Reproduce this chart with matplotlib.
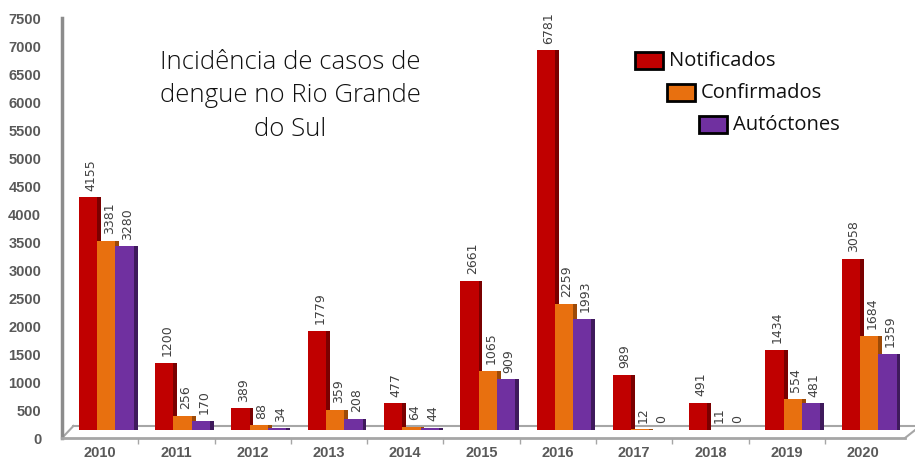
import numpy as np
import matplotlib
matplotlib.use("Agg")
import matplotlib.pyplot as plt
import matplotlib.patches as mpatches

# data
years = ['2010', '2011', '2012', '2013', '2014', '2015', '2016', '2017', '2018', '2019', '2020']
notificados = [4155, 1200, 389, 1779, 477, 2661, 6781, 989, 491, 1434, 3058]
confirmados = [3381, 256, 88, 359, 64, 1065, 2259, 12, 11, 554, 1684]
autoctones = [3280, 170, 34, 208, 44, 909, 1993, 0, 0, 481, 1359]

series = [('Notificados', notificados, '#c00000', '#7a0000'),
          ('Confirmados', confirmados, '#e8700f', '#9c4a08'),
          ('Autóctones', autoctones, '#7030a0', '#3f1a5c')]

W, H = 915, 468
fig = plt.figure(figsize=(W / 100, H / 100), dpi=100)
ax = fig.add_axes([62 / W, 1 - 438 / H, (905 - 62) / W, (438 - 18) / H])

x = np.arange(len(years))
offsets = [-0.16, 0.08, 0.32]
bw = 0.24     # bar face width
side = 0.05   # 3d side depth
lift = 140    # 3d lift of bars above the front floor edge

# floor (back edge + slanted ends)
ax.plot([-0.35, 10.75], [215, 215], color='#a6a6a6', lw=1.5, zorder=1, clip_on=False)
ax.plot([-0.5, -0.35], [0, 215], color='#a6a6a6', lw=1.5, zorder=1, clip_on=False)
ax.plot([10.55, 10.75], [0, 215], color='#a6a6a6', lw=1.5, zorder=1, clip_on=False)

z = 2
for (name, vals, col, dark), off in zip(series, offsets):
    xs = x + off
    vals = np.array(vals)
    # side face
    ax.bar(xs + bw / 2 + side / 2, vals, width=side, bottom=lift, color=dark, zorder=z)
    ax.bar(xs, vals, width=bw, bottom=lift, color=col, zorder=z + 1)
    z += 2
    for xi, v in zip(xs, vals):
        ax.text(xi + 0.04, v + lift + 120, str(v), rotation=90, ha='center', va='bottom',
                fontsize=9, color='#404040', zorder=10)

ax.set_xlim(-0.5, 10.55)
ax.set_ylim(0, 7500)
ax.set_yticks(np.arange(0, 7501, 500))
ax.set_xticks(x)
ax.set_xticklabels(years)
ax.set_xticks(x[:-1] + 0.5, minor=True)
for lab in ax.get_yticklabels() + ax.get_xticklabels():
    lab.set_fontfamily('Liberation Sans')
    lab.set_fontweight('bold')
    lab.set_color('#595959')
    lab.set_fontsize(10.5)
ax.tick_params(axis='y', length=0, pad=15)
ax.tick_params(axis='x', which='major', length=0, pad=6)
ax.tick_params(axis='x', which='minor', length=4, color='#a6a6a6', width=1)
for s in ['top', 'right']:
    ax.spines[s].set_visible(False)
ax.spines['left'].set_color('#8c8c8c')
ax.spines['left'].set_linewidth(2.5)
ax.spines['bottom'].set_color('#a6a6a6')
ax.spines['bottom'].set_linewidth(2)

fig.text(290 / W, 1 - 96 / H, 'Incidência de casos de\ndengue no Rio Grande\ndo Sul',
         ha='center', va='center', fontsize=18.5, family='Open Sans', fontweight='light',
         linespacing=1.45, color='#111111')

# staggered legend
leg = [(635, 52, 'Notificados'), (667, 84, 'Confirmados'), (699, 116, 'Autóctones')]
for (lx, ly, name), (_, _, col, _) in zip(leg, series):
    fig.patches.append(mpatches.Rectangle((lx / W, 1 - (ly + 17) / H), 28 / W, 17 / H,
                                          transform=fig.transFigure, facecolor=col,
                                          edgecolor='black', lw=2))
    fig.text((lx + 34) / W, 1 - (ly + 9) / H, name, ha='left', va='center',
             fontsize=14.5, family='Open Sans', color='#111111')

fig.savefig('out.png', dpi=100)
